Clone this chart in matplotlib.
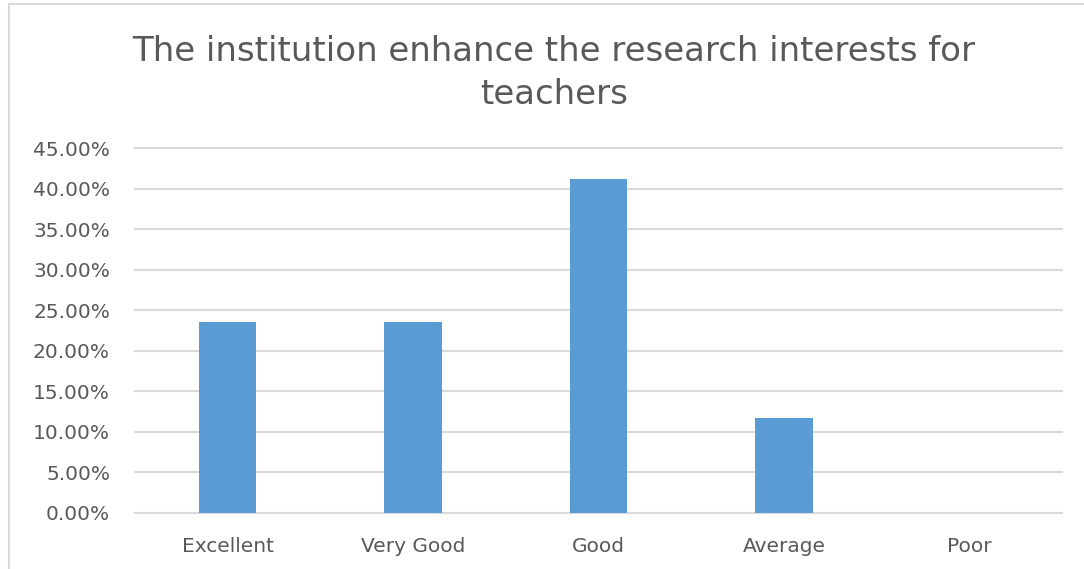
import matplotlib
matplotlib.use("Agg")
import matplotlib.pyplot as plt
from matplotlib.patches import Rectangle
from matplotlib.ticker import FuncFormatter, MultipleLocator

categories = ["Excellent", "Very Good", "Good", "Average", "Poor"]
values = [23.53, 23.53, 41.18, 11.76, 0.0]
title = "The institution enhance the research interests for\nteachers"

W, H = 1084, 569
fig = plt.figure(figsize=(W / 100, H / 100), dpi=100)
plt.rcParams['font.family'] = ['DejaVu Sans']

ax = fig.add_axes([135 / W, 56 / H, (1062 - 135) / W, (513 - 148) / H])
x = range(len(categories))
ax.bar(x, values, width=0.31, color="#5B9BD5", zorder=3)
ax.set_xlim(-0.5, len(categories) - 0.5)
ax.set_ylim(0, 45)
ax.yaxis.set_major_locator(MultipleLocator(5))
ax.yaxis.set_major_formatter(FuncFormatter(lambda v, p: f"{v:.2f}%"))
ax.set_xticks(list(x))
ax.set_xticklabels(categories)
ax.grid(axis="y", color="#D9D9D9", linewidth=1.5, zorder=0)
for gl in ax.get_ygridlines():
    gl.set_clip_on(False)
for s in ax.spines.values():
    s.set_visible(False)
ax.tick_params(axis="both", length=0, labelsize=14.5, labelcolor="#595959")
ax.tick_params(axis="x", pad=17)
ax.tick_params(axis="y", pad=18)

fig.text(554 / W, 1 - 73 / H, title, ha="center", va="center",
         fontsize=24.5, color="#595959", linespacing=1.4)

fig.patches.append(Rectangle((9 / W, -0.05), 1.2, 1 - 4 / H + 0.05,
                             transform=fig.transFigure, fill=False,
                             edgecolor="#D9D9D9", linewidth=1.5))

fig.savefig("out.png", dpi=100)
